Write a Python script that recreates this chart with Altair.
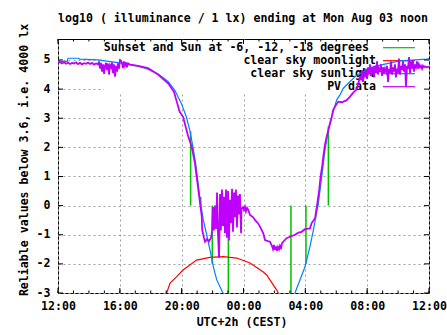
import altair as alt
import pandas as pd

FONT = "DejaVu Sans Mono"
FS = 11.6

TITLE = "log10 ( illuminance / 1 lx) ending at Mon Aug 03 noon"
Y_TITLE = "Reliable values below 3.6, i.e. 4000 lx"
X_TITLE = "UTC+2h (CEST)"

# hours after 12:00 (Aug 02)
x_ticks = [0, 4, 8, 12, 16, 20, 24]
x_labels = ["12:00", "16:00", "20:00", "00:00", "04:00", "08:00", "12:00"]
x_minor = list(range(25))
y_ticks = [-3, -2, -1, 0, 1, 2, 3, 4, 5]

legend_labels = ["Sunset and Sun at -6, -12, -18 degrees", "clear sky moonlight",
                 "clear sky sunlight", "PV data"]
colors = ["#00c000", "#ff0000", "#0080ff", "#c000ff"]

# sunset / sun at -6, -12, -18 degrees (evening and morning)
event_h = [8.58, 9.23, 9.98, 11.02, 15.07, 16.04, 16.82, 17.49]
event_v = [2.55, 0.30, -2.00, -3.00, -3.00, -2.00, 0.30, 2.72]

# clear sky moonlight
moon_h = [7.03, 7.25, 7.68, 8.09, 8.97, 9.83, 10.69, 11.56, 12.42, 13.26, 13.50, 13.71, 14.15, 14.25]
moon_v = [-3.0, -2.66, -2.44, -2.21, -1.87, -1.78, -1.75, -1.80, -1.97, -2.27, -2.38, -2.55, -2.90, -3.0]

# clear sky sunlight
sun_eve_h = [0.00, 0.60, 0.65, 1.34, 1.40, 2.59, 4.08, 5.18, 5.82, 6.47, 7.12, 7.55, 7.98, 8.30,
             8.52, 8.73, 8.93, 9.19, 9.40, 9.62, 9.83, 10.05, 10.27, 10.67]
sun_eve_v = [4.95, 4.95, 5.06, 5.06, 5.03, 5.00, 4.89, 4.79, 4.68, 4.52, 4.26, 3.97, 3.51, 3.05,
             2.60, 2.02, 1.35, 0.20, -0.49, -1.00, -1.52, -2.10, -2.55, -3.00]
sun_morn_h = [15.33, 15.98, 16.30, 16.52, 16.84, 17.06, 17.27, 17.49, 17.77, 18.03, 18.24, 18.46,
              19.32, 20.40, 22.12, 23.85, 24.00]
sun_morn_v = [-3.00, -2.10, -1.41, -0.84, 0.08, 0.99, 1.91, 2.60, 3.17, 3.63, 3.80, 4.03,
              4.48, 4.77, 4.97, 5.03, 5.05]

# PV data
pv_h = [0.00, 0.13, 0.26, 0.39, 0.52, 0.65, 0.78, 0.91, 1.04, 1.16, 1.29, 1.42, 1.55, 1.68, 1.81,
        1.94, 2.07, 2.20, 2.33, 2.46, 2.59,
        2.65, 2.72, 2.78, 2.85, 2.91, 2.98, 3.04, 3.11, 3.17, 3.23, 3.30, 3.36, 3.43, 3.49, 3.56,
        3.62, 3.69, 3.75, 3.82, 3.88, 3.95, 4.01, 4.08, 4.14, 4.20, 4.27, 4.33, 4.40, 4.46, 4.53, 4.66,
        5.18, 5.82, 6.47, 7.12, 7.50, 7.65, 7.87, 8.09, 8.20, 8.41, 8.65, 8.86, 8.97, 9.08, 9.19,
        9.30, 9.33, 9.44, 9.51, 9.64, 9.77, 9.90,
        9.96, 10.03, 10.09, 10.16, 10.22, 10.29, 10.35, 10.42, 10.48, 10.54, 10.61, 10.67, 10.74,
        10.80, 10.87, 10.93, 11.00, 11.06, 11.13, 11.19, 11.26, 11.32, 11.39, 11.45, 11.51, 11.58,
        11.64, 11.71, 11.77, 11.84, 11.87,
        11.97, 12.03, 12.10, 12.16, 12.23, 12.31,
        12.42, 12.63, 12.74, 12.96, 13.18, 13.28, 13.39, 13.58, 13.71, 13.84, 13.91, 13.97, 14.04,
        14.10, 14.17, 14.23, 14.30, 14.36, 14.43, 14.49, 14.57, 14.79, 15.01, 15.33, 15.55, 15.76,
        15.98, 16.30, 16.41, 16.63, 16.74, 16.84, 16.90, 16.95, 17.00, 17.10, 17.16, 17.27, 17.38,
        17.49, 17.60, 17.71, 17.81, 17.98, 18.13, 18.37, 18.68, 18.89, 19.10, 19.32, 19.43, 19.54,
        19.60, 19.67, 19.73, 19.80, 19.86, 19.93, 19.99, 20.05, 20.12, 20.18, 20.25, 20.31, 20.38,
        20.44, 20.51, 20.57, 20.64, 20.70, 20.76, 20.83, 20.89, 20.96, 21.02, 21.09, 21.15, 21.22,
        21.28, 21.35, 21.41, 21.48, 21.54, 21.61, 21.67, 21.73, 21.80, 21.86, 21.93, 21.99, 22.06,
        22.12, 22.19, 22.25, 22.32, 22.38, 22.45, 22.51, 22.58, 22.64, 22.71, 22.77, 22.83, 22.90,
        22.96, 23.03, 23.09, 23.16, 23.22, 23.29, 23.35, 23.42, 23.48, 23.55, 23.61, 23.68, 23.74,
        23.87, 24.00]
pv_v = [4.90, 4.93, 4.88, 4.92, 4.87, 4.91, 4.86, 4.90, 4.88, 4.92, 4.86, 4.90, 4.85, 4.89, 4.87,
        4.91, 4.86, 4.90, 4.84, 4.88, 4.85,
        4.95, 4.70, 4.90, 4.60, 4.85, 4.52, 4.80, 4.90, 4.65, 4.88, 4.50, 4.82, 4.75, 4.92, 4.55,
        4.85, 4.43, 4.80, 4.60, 4.88, 4.70, 5.00, 4.98, 4.90, 4.72, 4.95, 4.80, 4.92, 4.75, 4.88, 4.84,
        4.80, 4.72, 4.50, 4.20, 3.91, 3.63, 3.22, 3.05, 2.83, 2.40, 2.02, 1.45, 0.99, 0.54, 0.08,
        -0.38, -0.84, -1.10, -1.24, -1.15, -1.22, -1.10,
        -0.90, -0.05, -0.85, 0.00, -0.80, 0.45, -1.00, -1.80, 0.40, -0.85, 0.55, -0.70, 0.30,
        -0.95, 0.55, -1.10, 0.50, -1.20, 0.20, -0.60, 0.58, -0.90, 0.45, -0.40, 0.55, -0.75,
        0.35, -0.30, 0.40, -0.95, -0.10,
        -0.05, -0.15, -0.05, -0.20, -0.08, -0.15,
        -0.32, -0.40, -0.49, -0.62, -0.84, -0.95, -1.18, -1.22, -1.24, -1.38, -1.50, -1.35, -1.52,
        -1.40, -1.55, -1.42, -1.50, -1.38, -1.45, -1.30, -1.24, -1.12, -1.07, -1.00, -0.93, -0.90,
        -0.81, -0.78, -0.60, -0.43, -0.04, 0.31, 0.54, 0.82, 1.05, 1.39, 1.68, 2.08, 2.37,
        2.60, 2.83, 3.05, 3.30, 3.45, 3.57, 3.55, 3.62, 3.74, 3.88, 3.99, 4.20, 4.45,
        4.30, 4.65, 4.25, 4.55, 4.40, 4.70, 4.35, 4.75, 4.50, 4.85, 4.45, 4.60, 4.75,
        4.40, 4.80, 4.55, 4.95, 4.50, 4.70, 4.60, 4.85, 4.45, 4.75, 4.55, 4.70, 4.60,
        4.80, 4.25, 4.70, 4.55, 4.95, 4.50, 4.75, 4.60, 4.85, 4.40, 4.70, 4.55, 5.05,
        4.50, 4.80, 4.65, 4.95, 4.60, 4.85, 4.10, 4.80, 4.70, 5.10, 4.55, 4.95, 4.70,
        5.00, 4.60, 4.85, 4.75, 4.95, 4.70, 4.85, 4.75, 4.80, 4.70, 4.80, 4.75, 4.78,
        4.75, 4.77]

W, H = 371, 254

xs = alt.Scale(domain=[0, 24], nice=False, zero=False)
ys = alt.Scale(domain=[-3, 5.72], nice=False, zero=False)

label_arr = "[" + ",".join("'%s'" % s for s in x_labels) + "]"
xaxis = alt.Axis(values=x_ticks, labelExpr=label_arr + "[round(datum.value / 4)]",
                 grid=True, gridColor="#a0a0a0", gridDash=[2, 3], gridWidth=1,
                 ticks=False, tickSize=0, domain=False, labelFont=FONT, labelFontSize=FS,
                 labelFontWeight="bold", labelColor="black", labelPadding=7, title=None,
                 labelFlush=False, labelOverlap=False, labelBound=False)
yaxis = alt.Axis(values=y_ticks, labelExpr="toString(datum.value)",
                 grid=True, gridColor="#a0a0a0", gridDash=[2, 3], gridWidth=1,
                 ticks=False, tickSize=0, domain=False, labelFont=FONT, labelFontSize=FS,
                 labelFontWeight="bold", labelColor="black", labelPadding=8, title=None,
                 labelFlush=False, labelOverlap=False, labelBound=False)

X = alt.X("h:Q", scale=xs, axis=xaxis)
Y = alt.Y("v:Q", scale=ys, axis=yaxis)

one = pd.DataFrame({"a": [0]})

ev_df = pd.DataFrame({"h": event_h, "v": event_v, "base": [0] * len(event_h)})
moon_df = pd.DataFrame({"h": moon_h, "v": moon_v})
sun_df = pd.DataFrame({"h": sun_eve_h + sun_morn_h, "v": sun_eve_v + sun_morn_v,
                       "seg": ["e"] * len(sun_eve_h) + ["m"] * len(sun_morn_h)})
pv_df = pd.DataFrame({"h": pv_h, "v": pv_v})

# key background (opaque)
key_bg = alt.Chart(one).mark_rect(fill="white", stroke=None).encode(
    x=alt.value(46), x2=alt.value(W - 1), y=alt.value(1), y2=alt.value(54))

green = alt.Chart(ev_df).mark_rule(color=colors[0], strokeWidth=1.5, clip=True).encode(
    x=X, y=alt.Y("base:Q", scale=ys, axis=yaxis), y2="v:Q")
red = alt.Chart(moon_df).mark_line(color=colors[1], strokeWidth=1.2, clip=True).encode(x=X, y=Y)
blue = alt.Chart(sun_df).mark_line(color=colors[2], strokeWidth=1.2, clip=True).encode(
    x=X, y=Y, detail="seg:N")
purple = alt.Chart(pv_df).mark_line(color=colors[3], strokeWidth=1.8, clip=True).encode(x=X, y=Y)

# legend
leg_layers = []
text_x = [311, 318, 318, 318]
for i, (lab, col) in enumerate(zip(legend_labels, colors)):
    yy = 9 + 13 * i
    leg_layers.append(alt.Chart(one).mark_text(
        text=lab, align="right", baseline="middle", font=FONT, fontSize=FS,
        fontWeight="bold", color="black").encode(x=alt.value(text_x[i]), y=alt.value(yy)))
    leg_layers.append(alt.Chart(one).mark_rule(color=col, strokeWidth=1.2).encode(
        x=alt.value(325), x2=alt.value(357), y=alt.value(yy - 0.3)))

# inward ticks
maj_df = pd.DataFrame({"h": x_ticks})
min_df = pd.DataFrame({"h": x_minor})
yt_df = pd.DataFrame({"v": y_ticks})
tick_layers = [
    alt.Chart(maj_df).mark_rule(color="black").encode(x=X, y=alt.value(H), y2=alt.value(H - 5)),
    alt.Chart(maj_df).mark_rule(color="black").encode(x=X, y=alt.value(0), y2=alt.value(5)),
    alt.Chart(min_df).mark_rule(color="black").encode(x=X, y=alt.value(H), y2=alt.value(H - 2.5)),
    alt.Chart(min_df).mark_rule(color="black").encode(x=X, y=alt.value(0), y2=alt.value(2.5)),
    alt.Chart(yt_df).mark_rule(color="black").encode(y=Y, x=alt.value(0), x2=alt.value(5)),
    alt.Chart(yt_df).mark_rule(color="black").encode(y=Y, x=alt.value(W - 5), x2=alt.value(W)),
]

titles = [
    alt.Chart(one).mark_text(text=TITLE, align="center", baseline="middle", font=FONT,
                             fontSize=FS, fontWeight="bold", color="black").encode(
        x=alt.value(185), y=alt.value(-20)),
    alt.Chart(one).mark_text(text=X_TITLE, align="center", baseline="middle", font=FONT,
                             fontSize=FS, fontWeight="bold", color="black").encode(
        x=alt.value(184), y=alt.value(284)),
    alt.Chart(one).mark_text(text=Y_TITLE, align="center", baseline="middle", font=FONT,
                             fontSize=FS, fontWeight="bold", color="black", angle=270).encode(
        x=alt.value(-33), y=alt.value(121)),
]

chart = alt.layer(
    key_bg, green, red, *leg_layers, blue, purple, *tick_layers, *titles
).properties(
    width=W, height=H,
    autosize=alt.AutoSizeParams(type="none"),
    padding={"left": 58, "top": 39, "right": 18, "bottom": 42},
).configure_view(stroke="black", strokeWidth=1)

chart.save("out.html", embed_options={"renderer": "svg", "actions": False})
